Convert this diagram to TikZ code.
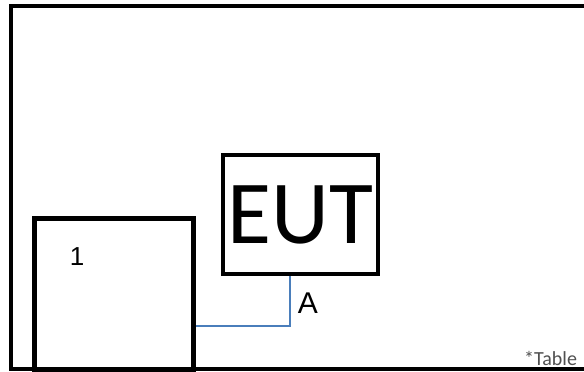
\documentclass[tikz,border=0pt]{standalone}
\usepackage{fontspec}
\setmainfont{Liberation Sans}
\newfontfamily\calibri{Carlito}
\usetikzlibrary{positioning,calc}
\definecolor{cCable}{HTML}{4A7EBB}
\definecolor{cNote}{HTML}{505050}

\begin{document}
\begin{tikzpicture}[x=1pt,y=-1pt,
      unit/.style={draw,line width=4pt,inner sep=0pt,anchor=north west},
      cable/.style={cCable,line width=1.6pt},
      lbl/.style={inner sep=0pt,font=\fontsize{26}{26}\selectfont}]
    \useasboundingbox (0,0) rectangle (584,372);
    \clip (0,0) rectangle (584,372);
    \fill[white] (0,0) rectangle (584,372);
    % room frame, right edge runs off the picture
    \draw[line width=4pt] (11,6) rectangle (610,369);
    % equipment under test
    \node[unit,minimum width=155pt,minimum height=119pt,
      font=\calibri\fontsize{90}{90}\selectfont] (eut) at (221,153) {EUT};
    % auxiliary box
    \node[unit,line width=5pt,minimum width=159pt,minimum height=152pt] (aux) at (32,216) {};
    \node[lbl,anchor=center] (auxlbl) at (77,257) {1};
    % cable A
    \coordinate (bend) at (290,326);
    \draw[cable] (eut.south -| bend) -- (bend) -- (aux.east |- bend);
    \node[lbl,anchor=center,font=\fontsize{30}{30}\selectfont] (cablbl) at (308,303) {A};
    \node[inner sep=0pt,anchor=base west,text=cNote,font=\calibri\fontsize{20}{20}\selectfont]
      (note) at (524,365) {*Table};
  \end{tikzpicture}
\end{document}
